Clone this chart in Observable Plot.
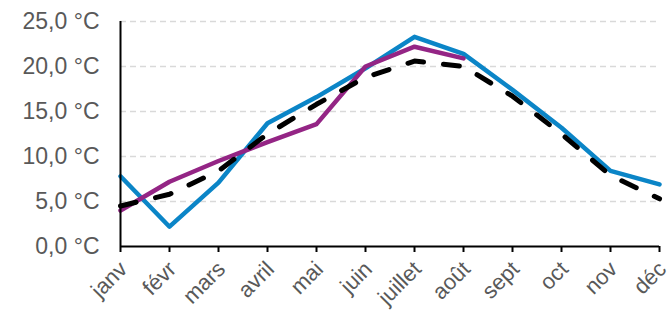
<!DOCTYPE html>
<html><head><meta charset="utf-8">
<script src="https://cdn.jsdelivr.net/npm/d3@7"></script>
<script src="https://cdn.jsdelivr.net/npm/@observablehq/plot@0.6"></script>
<style>body{margin:0;background:#fff;font-family:"Liberation Sans",Arial,sans-serif}</style>
</head><body><div id="chart"></div>
<script>
const months = ["janv","févr","mars","avril","mai","juin","juillet","août","sept","oct","nov","déc"];
const serieBleue = [7.8, 2.2, 7.1, 13.7, 16.6, 19.8, 23.3, 21.4, 17.4, 13.2, 8.4, 6.9];
const serieViolette = [4.0, 7.2, 9.5, 11.6, 13.6, 20.0, 22.2, 20.9];
const serieNoire = [4.5, 5.8, 8.4, 12.5, 15.8, 18.8, 20.6, 20.0, 16.7, 12.5, 7.9, 5.3];
const yTicks = [0, 5, 10, 15, 20, 25];

const toRows = vals => vals.map((v, i) => ({month: months[i], value: v}));
const fmt = d => d.toFixed(1).replace(".", ",") + "\u00a0°C";

const chart = Plot.plot({
  width: 671, height: 316,
  marginLeft: 120, marginRight: 12, marginTop: 21, marginBottom: 70,
  style: {fontFamily: '"Liberation Sans", Arial, sans-serif', background: "white", overflow: "visible"},
  x: {type: "point", domain: months, padding: 0, label: null},
  y: {domain: [0, 25], label: null},
  marks: [
    Plot.gridY(yTicks.slice(1), {stroke: "#d9d9d9", strokeOpacity: 1, strokeWidth: 1.5, strokeDasharray: "6,4"}),
    Plot.axisY(yTicks, {tickSize: 0, tickPadding: 21, tickFormat: fmt, fontSize: 23, fill: "#595959", label: null}),
    Plot.axisX({tickSize: 6, tickFormat: () => "", stroke: "black", strokeWidth: 2, label: null}),
    Plot.axisX({tickSize: 0, tickRotate: -45, fontSize: 22, fill: "#595959", tickPadding: 19, dx: 3, label: null}),
    Plot.line(toRows(serieBleue), {x: "month", y: "value", stroke: "#0b85c7", strokeWidth: 4.5, strokeLinejoin: "round"}),
    Plot.line(toRows(serieViolette), {x: "month", y: "value", stroke: "#942585", strokeWidth: 4.5, strokeLinejoin: "round"}),
    Plot.line(toRows(serieNoire), {x: "month", y: "value", stroke: "black", strokeWidth: 5, strokeDasharray: "16,20", strokeLinecap: "round"}),
    Plot.ruleX([months[0]], {stroke: "black", strokeWidth: 2}),
    Plot.ruleY([0], {stroke: "black", strokeWidth: 2})
  ]
});
document.getElementById("chart").append(chart);
</script>
</body></html>
